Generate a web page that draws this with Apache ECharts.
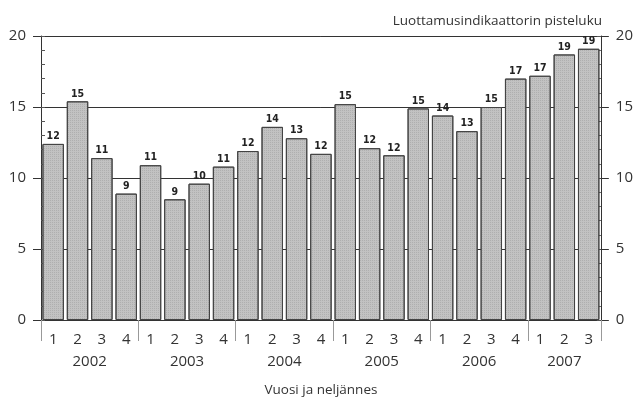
<!DOCTYPE html>
<html>
<head>
<meta charset="utf-8">
<script src="https://cdn.jsdelivr.net/npm/echarts@6/dist/echarts.min.js"></script>
<style>
html,body{margin:0;padding:0;background:#fff;}
#c{width:636px;height:402px;}
</style>
</head>
<body>
<div id="c"></div>
<script>
// ---- data ----
var quarters = ['1','2','3','4','1','2','3','4','1','2','3','4','1','2','3','4','1','2','3','4','1','2','3'];
var values = [12.4,15.4,11.4,8.9,10.9,8.5,9.6,10.8,11.9,13.6,12.8,11.7,15.2,12.1,11.6,14.9,14.4,13.3,15.0,17.0,17.2,18.7,19.1];
var valueLabels = ['12','15','11','9','11','9','10','11','12','14','13','12','15','12','12','15','14','13','15','17','17','19','19'];
var years = ['2002','2003','2004','2005','2006','2007'];
var quartersPerYear = [4,4,4,4,4,3];
var yTicks = [0,5,10,15,20];
var yTitle = 'Luottamusindikaattorin pisteluku';
var xTitle = 'Vuosi ja neljännes';

// Year axis: half-quarter points from left edge to right edge of the plot
var yearPoints = [];
var boundaryIdx = {};
var pos = 0;
boundaryIdx[0] = true;
for (var k = 0; k <= quarters.length * 2; k++) yearPoints.push('');
for (var y = 0; y < years.length; y++) {
  var n = quartersPerYear[y];
  yearPoints[pos + n] = years[y];
  pos += n * 2;
  boundaryIdx[pos] = true;
}

var font = 'Open Sans';
var chart = echarts.init(document.getElementById('c'));
var yBase = {
  type: 'value', min: 0, max: 20, interval: 5,
  axisLine: {show: true, lineStyle: {color: '#333', width: 1}},
  axisTick: {show: true, inside: false, length: 8, lineStyle: {color: '#333'}},
  axisLabel: {color: '#333', fontFamily: font, fontSize: 15, margin: 15,
    formatter: function (v) { return yTicks.indexOf(v) >= 0 ? String(v) : ''; }},
  splitLine: {show: true, lineStyle: {color: '#333', width: 1}}
};
var yMinor = {
  type: 'value', min: 0, max: 20, interval: 1,
  axisLine: {show: false},
  axisTick: {show: true, inside: true, length: 4, lineStyle: {color: '#555'}},
  axisLabel: {show: false},
  splitLine: {show: false}
};
chart.setOption({
  animation: false,
  title: {
    text: yTitle, right: 34, top: 14, padding: 0,
    textStyle: {fontFamily: font, fontSize: 13.5, fontWeight: 'normal', color: '#333'}
  },
  grid: {left: 41, right: 34, top: 36, bottom: 80},
  xAxis: [{
    type: 'category', data: quarters, position: 'bottom',
    axisLine: {show: true, lineStyle: {color: '#333'}},
    axisTick: {show: true, inside: true, alignWithLabel: true, length: 7, lineStyle: {color: '#aaa'}},
    axisLabel: {color: '#333', fontFamily: font, fontSize: 15, margin: 12, interval: 0}
  }, {
    type: 'category', data: yearPoints, position: 'bottom', offset: 30, boundaryGap: false,
    axisLine: {show: false},
    axisTick: {show: true, inside: false, length: 21, lineStyle: {color: '#999'},
      interval: function (i) { return !!boundaryIdx[i]; }},
    axisLabel: {color: '#333', fontFamily: font, fontSize: 15, margin: 4, interval: 0},
    name: xTitle, nameLocation: 'middle', nameGap: 33,
    nameTextStyle: {fontFamily: font, fontSize: 13.5, color: '#333'}
  }],
  yAxis: [
    Object.assign({}, yBase, {position: 'left'}),
    Object.assign({}, yBase, {position: 'right', splitLine: {show: false}}),
    Object.assign({}, yMinor, {position: 'left'}),
    Object.assign({}, yMinor, {position: 'right'})
  ],
  series: [{
    type: 'bar', data: values, xAxisIndex: 0, yAxisIndex: 0,
    barCategoryGap: '12%',
    itemStyle: {
      color: '#c2c2c2', borderColor: '#444', borderWidth: 1,
      decal: {symbol: 'rect', symbolSize: 1, dashArrayX: [1, 1], dashArrayY: [1, 1], color: 'rgba(90,90,90,0.18)'}
    },
    label: {
      show: true, position: 'top', distance: 2,
      fontFamily: 'DejaVu Sans Condensed', fontWeight: 'bold', fontSize: 10.5, color: '#222',
      formatter: function (p) { return valueLabels[p.dataIndex]; }
    }
  }]
});
</script>
</body>
</html>
